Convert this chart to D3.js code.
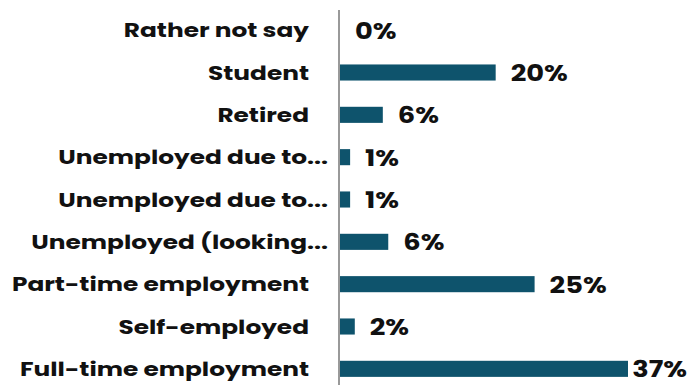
<!DOCTYPE html>
<html>
<head>
<meta charset="utf-8">
<script src="https://cdn.jsdelivr.net/npm/d3@7"></script>
<style>
  body { margin: 0; background: #fff; }
  svg text { font-family: Poppins, Inter, "Open Sans", sans-serif; font-weight: 700; fill: #111; }
</style>
</head>
<body>
<div id="chart"></div>
<script>
const categories = ["Rather not say", "Student", "Retired", "Unemployed due to...", "Unemployed due to...",
  "Unemployed (looking...", "Part-time employment", "Self-employed", "Full-time employment"];
const values = [0, 20, 5.5, 1.3, 1.3, 6.2, 25, 1.9, 37];
const valueLabels = ["0%", "20%", "6%", "1%", "1%", "6%", "25%", "2%", "37%"];

(function() {
    const width = 687, height = 385;
    const axisX = 340;
    const stretch = 1.24; // widen Inter toward the geometric face of the original

    const svg = d3.select("#chart").append("svg")
        .attr("width", width)
        .attr("height", height);

    const rows = categories.map((c, i) => ({ key: i, cat: c, v: values[i], label: valueLabels[i] }));

    const y = d3.scaleBand()
        .domain(rows.map(d => d.key))
        .range([9, 390])
        .paddingInner(0.62)
        .paddingOuter(0.31);

    const x = d3.scaleLinear()
        .domain([0, 37])
        .range([axisX, 628]);

    // bars
    svg.append("g")
        .selectAll("rect")
        .data(rows)
        .enter()
        .append("rect")
        .attr("x", x(0))
        .attr("y", d => y(d.key))
        .attr("width", d => x(d.v) - x(0))
        .attr("height", y.bandwidth())
        .attr("fill", "#0e536c");

    // axis line
    svg.append("line")
        .attr("x1", axisX - 1).attr("x2", axisX - 1)
        .attr("y1", 10).attr("y2", height)
        .attr("stroke", "#999")
        .attr("stroke-width", 2);

    // category labels (truncated ones run further right, as in the original)
    svg.append("g")
        .selectAll("text")
        .data(rows)
        .enter()
        .append("text")
        .attr("x", d => d.cat.endsWith("...") ? 328 : 309)
        .attr("y", d => y(d.key) + y.bandwidth() / 2)
        .attr("dy", "0.36em")
        .attr("text-anchor", "end")
        .attr("font-size", 20)
        .text(d => d.cat)
        .each(function() {
            const w = this.getComputedTextLength();
            this.setAttribute("textLength", w * stretch);
            this.setAttribute("lengthAdjust", "spacingAndGlyphs");
        });

    // value labels
    svg.append("g")
        .selectAll("text")
        .data(rows)
        .enter()
        .append("text")
        .attr("y", d => y(d.key) + y.bandwidth() / 2)
        .attr("dy", "0.38em")
        .attr("font-size", 22)
        .text(d => d.label)
        .each(function(d) {
            const w = this.getComputedTextLength() * stretch;
            this.setAttribute("textLength", w);
            this.setAttribute("lengthAdjust", "spacingAndGlyphs");
            this.setAttribute("x", Math.min(x(d.v) + 15, width - w));
        });
})();
</script>
</body>
</html>
